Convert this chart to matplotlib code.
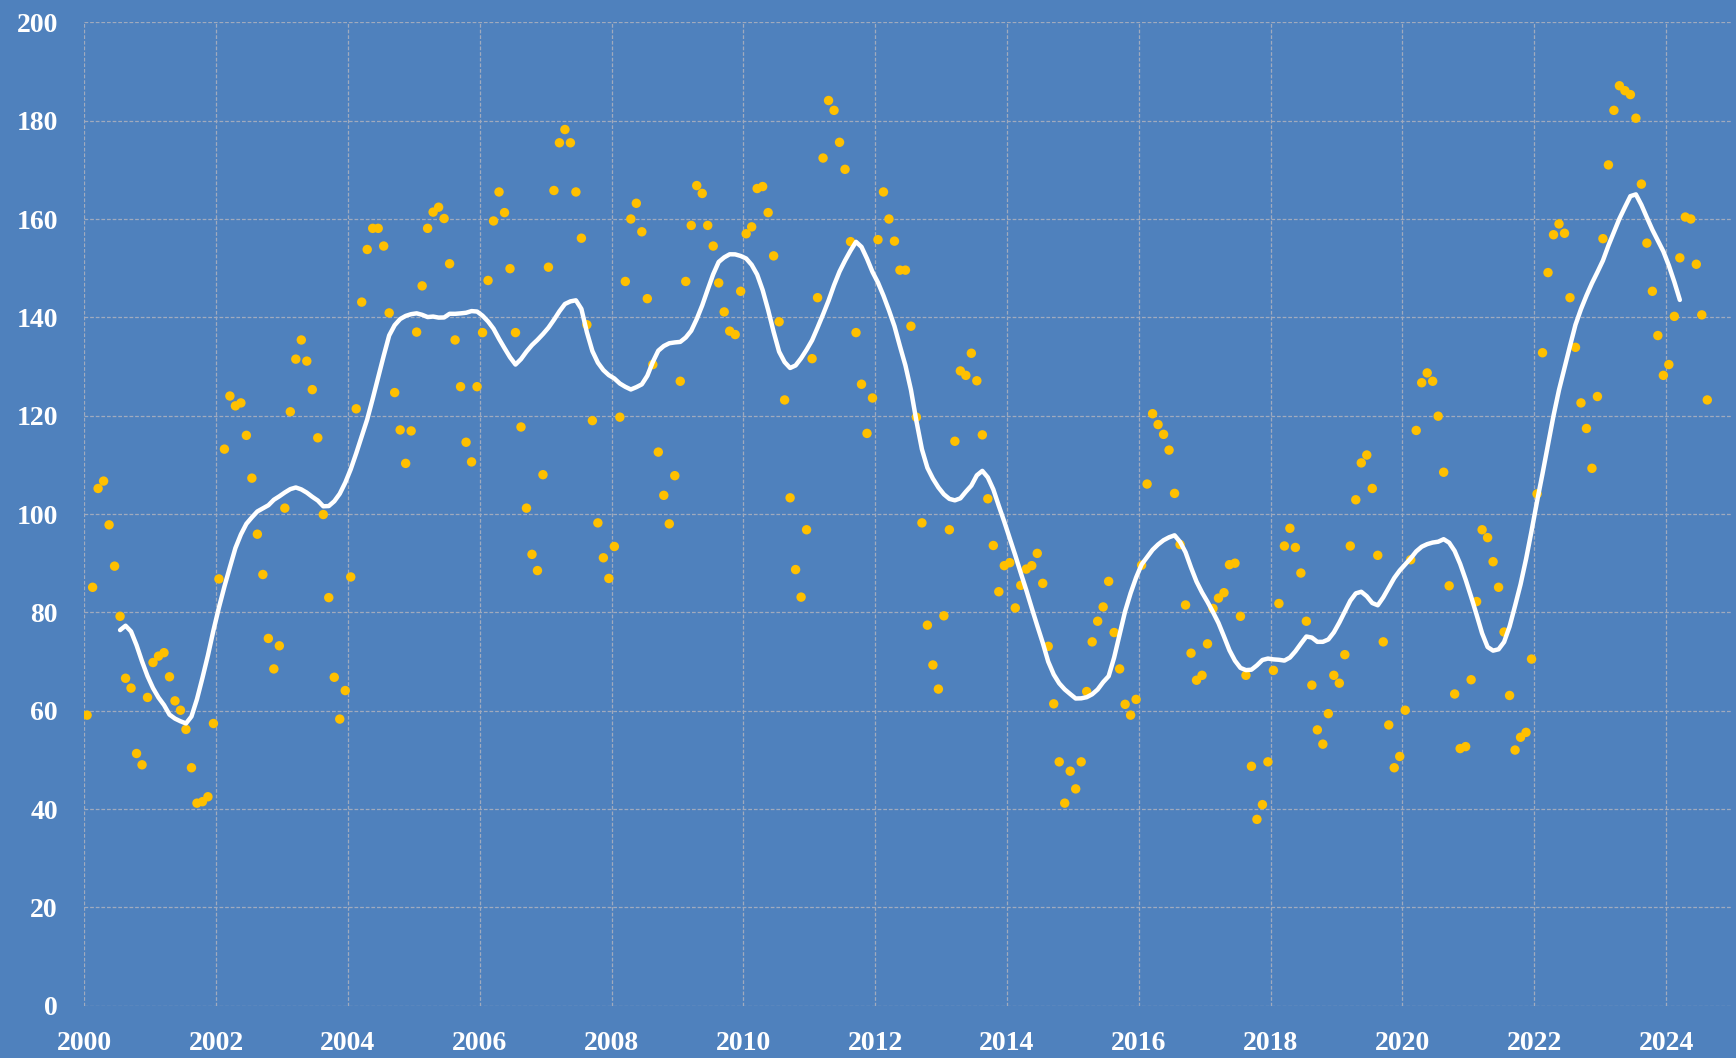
import matplotlib
matplotlib.use('Agg')
import numpy as np
import pandas as pd
import matplotlib.pyplot as plt

# -------------------- Data (monthly, Jan 2000 - Aug 2024) --------------------
start_year = 2000
monthly_values = [
    59.1, 85.1, 105.2, 106.7, 97.8, 89.4, 79.2, 66.6, 64.6, 51.3, 49.0, 62.7,      # 2000
    69.8, 71.1, 71.8, 66.9, 62.0, 60.1, 56.2, 48.4, 41.2, 41.5, 42.5, 57.4,        # 2001
    86.8, 113.2, 124.0, 122.0, 122.6, 116.0, 107.3, 95.9, 87.7, 74.7, 68.5, 73.2,  # 2002
    101.2, 120.8, 131.5, 135.4, 131.1, 125.3, 115.5, 99.9, 83.0, 66.8, 58.3, 64.1, # 2003
    87.2, 121.4, 143.1, 153.8, 158.1, 158.1, 154.5, 140.9, 124.7, 117.1, 110.3, 116.9,  # 2004
    137.0, 146.4, 158.1, 161.4, 162.4, 160.1, 150.9, 135.4, 125.9, 114.6, 110.6, 125.9, # 2005
    136.9, 147.5, 159.6, 165.5, 161.3, 149.9, 136.9, 117.7, 101.2, 91.8, 88.5, 108.0,   # 2006
    150.2, 165.8, 175.5, 178.2, 175.5, 165.5, 156.1, 138.5, 119.0, 98.2, 91.1, 86.9,    # 2007
    93.4, 119.7, 147.3, 160.0, 163.2, 157.4, 143.8, 130.4, 112.6, 103.8, 98.0, 107.8,   # 2008
    127.0, 147.3, 158.7, 166.8, 165.2, 158.7, 154.5, 147.0, 141.1, 137.2, 136.5, 145.3, # 2009
    157.0, 158.4, 166.2, 166.6, 161.3, 152.5, 139.1, 123.2, 103.3, 88.7, 83.1, 96.8,    # 2010
    131.6, 144.0, 172.4, 184.1, 182.1, 175.6, 170.1, 155.4, 136.9, 126.4, 116.4, 123.6, # 2011
    155.8, 165.5, 160.0, 155.5, 149.6, 149.6, 138.2, 119.7, 98.2, 77.4, 69.3, 64.4,     # 2012
    79.3, 96.8, 114.8, 129.1, 128.2, 132.7, 127.1, 116.1, 103.1, 93.6, 84.2, 89.5,      # 2013
    90.1, 80.9, 85.5, 88.8, 89.5, 92.0, 85.9, 73.1, 61.4, 49.6, 41.2, 47.7,             # 2014
    44.1, 49.6, 63.9, 74.0, 78.2, 81.1, 86.3, 75.9, 68.5, 61.3, 59.1, 62.3,             # 2015
    89.6, 106.1, 120.4, 118.2, 116.2, 113.0, 104.2, 93.8, 81.5, 71.7, 66.2, 67.2,       # 2016
    73.6, 80.8, 82.9, 84.0, 89.7, 90.0, 79.2, 67.2, 48.7, 37.9, 40.9, 49.6,             # 2017
    68.2, 81.8, 93.5, 97.1, 93.2, 88.0, 78.2, 65.2, 56.1, 53.2, 59.4, 67.2,             # 2018
    65.6, 71.4, 93.5, 102.9, 110.4, 112.0, 105.2, 91.6, 74.0, 57.1, 48.4, 50.7,         # 2019
    60.1, 90.7, 117.0, 126.7, 128.7, 127.0, 119.9, 108.5, 85.4, 63.4, 52.3, 52.7,       # 2020
    66.3, 82.2, 96.8, 95.2, 90.3, 85.1, 76.0, 63.1, 52.0, 54.6, 55.6, 70.5,             # 2021
    104.1, 132.8, 149.1, 156.8, 159.0, 157.1, 144.0, 133.9, 122.6, 117.4, 109.3, 123.9, # 2022
    156.0, 171.0, 182.1, 187.1, 186.1, 185.3, 180.5, 167.1, 155.1, 145.3, 136.3, 128.2, # 2023
    130.4, 140.2, 152.1, 160.4, 160.0, 150.8, 140.5, 123.2,                             # 2024
]
year_ticks = list(range(2000, 2025, 2))
value_ticks = list(range(0, 201, 20))

# -------------------- Series --------------------
n = len(monthly_values)
t = start_year + (np.arange(n) + 0.5) / 12.0
vals = pd.Series(monthly_values)
# centred 12-month moving average
ma = vals.rolling(12).mean().shift(-5)

# -------------------- Plot --------------------
bg = '#4F81BD'
fig = plt.figure(figsize=(17.36, 10.58), dpi=100, facecolor=bg)
ax = fig.add_axes([0.0486, 0.0494, 0.9491, 0.9295])
ax.set_facecolor(bg)

ax.scatter(t, vals, s=46, color='#FFC000', edgecolors='none', zorder=3)
ax.plot(t, ma, color='white', lw=3.2, solid_capstyle='round',
        solid_joinstyle='round', zorder=4)

ax.set_xlim(2000, 2025)
ax.set_ylim(0, 200)
ax.set_xticks(year_ticks)
ax.set_yticks(value_ticks)
ax.set_xticklabels([str(y) for y in year_ticks])
ax.grid(True, color='#A0AABD', lw=0.9, linestyle=(0, (3, 1.5)), zorder=0)
ax.set_axisbelow(True)
for s in ax.spines.values():
    s.set_visible(False)

for lab in ax.get_xticklabels() + ax.get_yticklabels():
    lab.set_fontfamily('Liberation Serif')
    lab.set_fontweight('bold')
    lab.set_fontsize(20)
    lab.set_color('white')
ax.tick_params(axis='both', length=0)
ax.tick_params(axis='y', pad=19)
ax.tick_params(axis='x', pad=18)

fig.savefig('out.png', dpi=100, facecolor=bg)
plt.close(fig)
